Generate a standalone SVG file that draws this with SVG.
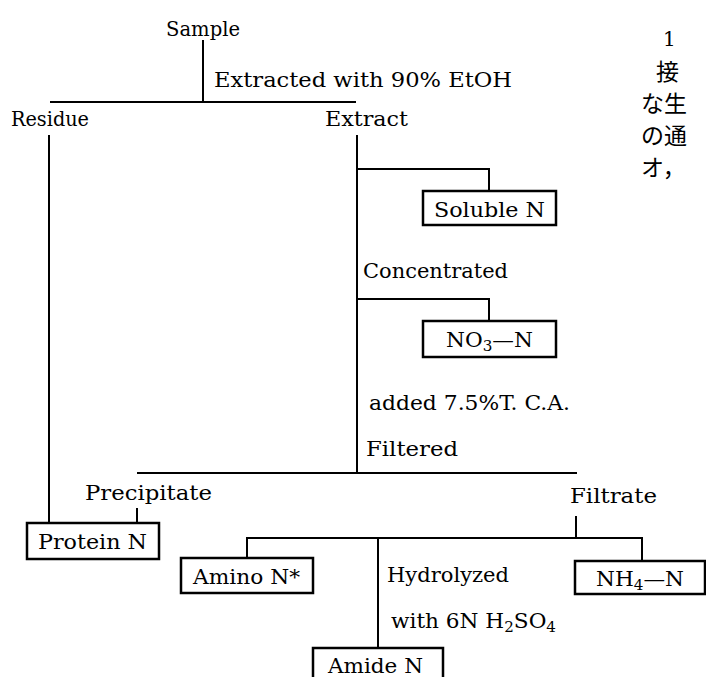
<svg xmlns="http://www.w3.org/2000/svg" width="706" height="677" viewBox="0 0 706 677">
<style>
text{font-family:"DejaVu Serif","Liberation Serif",serif;font-size:20px;fill:#000}
.jp{font-family:"Noto Sans CJK JP",sans-serif;font-size:23px}
.sub{font-size:14px}
.box{fill:#fff;stroke:#000;stroke-width:2.5}
.ln{fill:none;stroke:#000;stroke-width:2}
</style>
<rect width="706" height="677" fill="#fff"/>
<g id="connectors" class="ln">
<path d="M203 40V102"/>
<path d="M50 102H356"/>
<path d="M49 135V523"/>
<path d="M357 135V473"/>
<path d="M357 169H489V191"/>
<path d="M357 299H489V321"/>
<path d="M137 473H577"/>
<path d="M137 508V523"/>
<path d="M576 516V538"/>
<path d="M247 558V538H642V560"/>
<path d="M378 538V648"/>
</g>
<g id="sample"><text x="166" y="36" textLength="74" lengthAdjust="spacingAndGlyphs">Sample</text></g>
<g id="step-extract"><text x="214" y="87" textLength="298" lengthAdjust="spacingAndGlyphs">Extracted with 90% EtOH</text></g>
<g id="residue"><text x="11" y="126" textLength="78" lengthAdjust="spacingAndGlyphs">Residue</text></g>
<g id="extract"><text x="325" y="126" textLength="83" lengthAdjust="spacingAndGlyphs">Extract</text></g>
<g id="soluble-n"><rect class="box" x="423" y="191" width="133" height="34"/><text x="434" y="217" textLength="111" lengthAdjust="spacingAndGlyphs">Soluble N</text></g>
<g id="step-concentrated"><text x="363" y="278" textLength="145" lengthAdjust="spacingAndGlyphs">Concentrated</text></g>
<g id="no3-n"><rect class="box" x="423" y="321" width="133" height="36"/><text x="446" y="347" textLength="87" lengthAdjust="spacingAndGlyphs">NO<tspan class="sub" dy="4">3</tspan><tspan dy="-4">—N</tspan></text></g>
<g id="step-tca"><text x="369" y="410" textLength="201" lengthAdjust="spacingAndGlyphs">added  7.5%T. C.A.</text></g>
<g id="step-filtered"><text x="366" y="456" textLength="92" lengthAdjust="spacingAndGlyphs">Filtered</text></g>
<g id="precipitate"><text x="85" y="500" textLength="127" lengthAdjust="spacingAndGlyphs">Precipitate</text></g>
<g id="filtrate"><text x="570" y="503" textLength="87" lengthAdjust="spacingAndGlyphs">Filtrate</text></g>
<g id="protein-n"><rect class="box" x="27" y="523" width="132" height="36"/><text x="38" y="549" textLength="109" lengthAdjust="spacingAndGlyphs">Protein N</text></g>
<g id="amino-n"><rect class="box" x="181" y="558" width="132" height="35"/><text x="193" y="584" textLength="107" lengthAdjust="spacingAndGlyphs">Amino N*</text></g>
<g id="step-hydrolyzed"><text x="387" y="582" textLength="122" lengthAdjust="spacingAndGlyphs">Hydrolyzed</text><text x="391" y="628" textLength="165" lengthAdjust="spacingAndGlyphs">with 6N H<tspan class="sub" dy="4">2</tspan><tspan dy="-4">SO</tspan><tspan class="sub" dy="4">4</tspan></text></g>
<g id="nh4-n"><rect class="box" x="575" y="561" width="130" height="33"/><text x="596" y="586" textLength="88" lengthAdjust="spacingAndGlyphs">NH<tspan class="sub" dy="4">4</tspan><tspan dy="-4">—N</tspan></text></g>
<g id="amide-n"><rect class="box" x="313" y="648" width="130" height="45"/><text x="328" y="673" textLength="95" lengthAdjust="spacingAndGlyphs">Amide N</text></g>
<g id="side-text">
<text x="663" y="46">1</text>
<text class="jp" x="656" y="80">接</text>
<text class="jp" x="641" y="112">な生</text>
<text class="jp" x="641" y="144">の通</text>
<text class="jp" x="641" y="176">オ，</text>
</g>
</svg>
